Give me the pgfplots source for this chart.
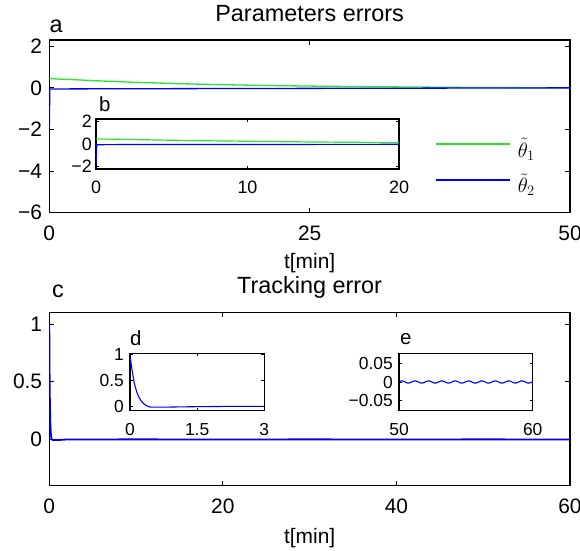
\documentclass[border=0pt]{standalone}
\usepackage{fontspec}
\setmainfont{Liberation Sans}
\usepackage{pgfplots}
\usepackage{pgfplotstable}
\pgfplotsset{compat=1.18}
\definecolor{mgreen}{RGB}{40,230,40}
\definecolor{mblue}{RGB}{0,0,255}

% parameter errors
\pgfplotstableread{
t    th1
0    0.45
1    0.42
2.5  0.39
5    0.33
7.5  0.28
10   0.24
12.5 0.20
15   0.17
17.5 0.145
20   0.12
25   0.085
30   0.06
35   0.04
40   0.02
45   0.01
50   0.005
}\thetaone
\pgfplotstableread{
t    th2
0    -1.9
0.05 -0.06
2    -0.05
10   -0.04
20   -0.03
30   -0.02
40   -0.01
50   0
}\thetatwo
% tracking error
\pgfplotstableread{
t    e
0    1
0.03 0.6
0.06 0.37
0.12 0.14
0.18 0.05
0.25 0.005
0.4  -0.005
1    -0.005
2    0
10   0.001
20   0
30   0.001
40   0
50   0.001
60   0
}\track
\pgfplotstableread{
t    e
0    1
0.03 0.80
0.06 0.63
0.09 0.48
0.12 0.37
0.16 0.26
0.2  0.18
0.25 0.11
0.3  0.06
0.35 0.025
0.4  0.005
0.45 -0.008
0.5  -0.012
0.7  -0.012
1    -0.008
1.5  -0.002
2    0.002
2.5  0.004
3    0.005
}\trackstart
\pgfplotstableread{
t      e
50.000 0.0009
50.125 0.0027
50.250 0.0029
50.375 0.0014
50.500 -0.0009
50.625 -0.0027
50.750 -0.0029
50.875 -0.0014
51.000 0.0009
51.125 0.0027
51.250 0.0029
51.375 0.0014
51.500 -0.0009
51.625 -0.0027
51.750 -0.0029
51.875 -0.0014
52.000 0.0009
52.125 0.0027
52.250 0.0029
52.375 0.0014
52.500 -0.0009
52.625 -0.0027
52.750 -0.0029
52.875 -0.0014
53.000 0.0009
53.125 0.0027
53.250 0.0029
53.375 0.0014
53.500 -0.0009
53.625 -0.0027
53.750 -0.0029
53.875 -0.0014
54.000 0.0009
54.125 0.0027
54.250 0.0029
54.375 0.0014
54.500 -0.0009
54.625 -0.0027
54.750 -0.0029
54.875 -0.0014
55.000 0.0009
55.125 0.0027
55.250 0.0029
55.375 0.0014
55.500 -0.0009
55.625 -0.0027
55.750 -0.0029
55.875 -0.0014
56.000 0.0009
56.125 0.0027
56.250 0.0029
56.375 0.0014
56.500 -0.0009
56.625 -0.0027
56.750 -0.0029
56.875 -0.0014
57.000 0.0009
57.125 0.0027
57.250 0.0029
57.375 0.0014
57.500 -0.0009
57.625 -0.0027
57.750 -0.0029
57.875 -0.0014
58.000 0.0009
58.125 0.0027
58.250 0.0029
58.375 0.0014
58.500 -0.0009
58.625 -0.0027
58.750 -0.0029
58.875 -0.0014
59.000 0.0009
59.125 0.0027
59.250 0.0029
59.375 0.0014
59.500 -0.0009
59.625 -0.0027
59.750 -0.0029
59.875 -0.0014
60.000 0.0009
}\trackend

\pgfplotsset{
  base/.style={
    scale only axis, anchor=south west,
    axis line style={line width=1.4bp},
    every tick/.style={black, line width=0.9bp},
    tick align=inside, tick pos=both,
    scaled ticks=false,
    axis background/.style={fill=white},
    xticklabel style={anchor=center},
    yticklabel style={anchor=east, inner sep=0pt},
  },
  mainax/.style={base, major tick length=5bp,
    tick label style={font=\fontsize{21}{25}\selectfont},
    xticklabel style={yshift=-20.5bp},
    yticklabel style={xshift=-7bp},
    title style={at={(0.5,1)}, anchor=base, yshift=13bp, inner sep=0pt,
      font=\fontsize{23.5}{28}\selectfont},
    xlabel style={at={(0.5,0)}, anchor=center, yshift=-50bp, inner sep=0pt,
      font=\fontsize{21}{25}\selectfont},
    xlabel={t[min]},
  },
  insetax/.style={base, major tick length=3bp,
    tick label style={font=\fontsize{17.5}{21}\selectfont},
    xticklabel style={yshift=-18.5bp},
    yticklabel style={xshift=-6bp},
  },
}

\begin{document}
\begin{tikzpicture}
\useasboundingbox (0,0) rectangle (580bp,551bp);

% ---- a: parameters errors
\begin{axis}[mainax, at={(49.3bp,338.3bp)}, width=520.7bp, height=172.7bp,
  xmin=0, xmax=50, ymin=-6, ymax=2.3,
  xtick={0,25,50}, xticklabels={0,25,50},
  ytick={-6,-4,-2,0,2}, yticklabels={−6,−4,−2,0,2},
  title={Parameters errors},
  legend image code/.code={\draw[#1] (0bp,4bp) -- (74bp,4bp);},
  legend cell align=left,
  legend style={draw=none, fill=none, at={(0.7407,0.432)}, anchor=north west,
    inner sep=0pt, outer sep=0pt, row sep={35.6bp,between origins},
    column sep=7bp, nodes={inner sep=0pt},
    font=\fontsize{22}{26}\selectfont}]
\addlegendimage{mgreen, line width=1.8bp}
\addlegendimage{mblue, line width=1.2bp}
\addplot[mgreen, line width=1.3bp, forget plot] table[x=t, y=th1] {\thetaone};
\addplot[mblue, line width=1.3bp, forget plot] table[x=t, y=th2] {\thetatwo};
\legend{$\tilde\theta_1$, $\tilde\theta_2$}
\end{axis}
\node[anchor=base west, inner sep=0pt, font=\fontsize{23.5}{28}\selectfont] at (49.3bp,518.7bp) {a};

% ---- b: inset
\begin{axis}[insetax, at={(96bp,382bp)}, width=303bp, height=50bp,
  xmin=0, xmax=20, ymin=-2.2, ymax=2.2,
  tick label style={font=\fontsize{18}{21}\selectfont},
  xtick={0,10,20}, xticklabels={0,10,20},
  ytick={-2,0,2}, yticklabels={−2,0,2},
  yticklabel style={xshift=2bp}]
\addplot[mgreen, line width=1.2bp] table[x=t, y=th1] {\thetaone};
\addplot[mblue, line width=1.2bp] table[x=t, y=th2] {\thetatwo};
\end{axis}
\node[anchor=base west, inner sep=0pt, font=\fontsize{20.5}{24}\selectfont] at (99bp,439.3bp) {b};

% ---- c: tracking error
\begin{axis}[mainax, at={(49.3bp,65.3bp)}, width=520.7bp, height=173.3bp,
  xmin=0, xmax=60, ymin=-0.4, ymax=1.1,
  xtick={0,20,40,60}, xticklabels={0,20,40,60},
  ytick={0,0.5,1}, yticklabels={0,0.5,1},
  xlabel style={yshift=-2bp},
  title={Tracking error}]
\addplot[mblue, line width=1.8bp] table[x=t, y=e] {\track};
\end{axis}
\node[anchor=base west, inner sep=0pt, font=\fontsize{23.5}{28}\selectfont] at (52bp,253.3bp) {c};

% ---- d: start of tracking error
\begin{axis}[insetax, at={(130bp,140.3bp)}, width=134.3bp, height=57.4bp,
  xmin=0, xmax=3, ymin=-0.08, ymax=1.03,
  xtick={0,1.5,3}, xticklabels={0,1.5,3},
  ytick={0,0.5,1}, yticklabels={0,0.5,1}]
\addplot[mblue, line width=1.1bp] table[x=t, y=e] {\trackstart};
\end{axis}
\node[anchor=base west, inner sep=0pt, font=\fontsize{20.5}{24}\selectfont] at (130bp,205bp) {d};

% ---- e: end of tracking error
\begin{axis}[insetax, at={(399bp,140.3bp)}, width=133.7bp, height=57.4bp,
  xmin=50, xmax=60, ymin=-0.078, ymax=0.078,
  xtick={50,60}, xticklabels={50,60},
  ytick={-0.05,0,0.05}, yticklabels={−0.05,0,0.05}]
\addplot[mblue, line width=1.1bp] table[x=t, y=e] {\trackend};
\end{axis}
\node[anchor=base west, inner sep=0pt, font=\fontsize{20.5}{24}\selectfont] at (400bp,206bp) {e};
\end{tikzpicture}
\end{document}
